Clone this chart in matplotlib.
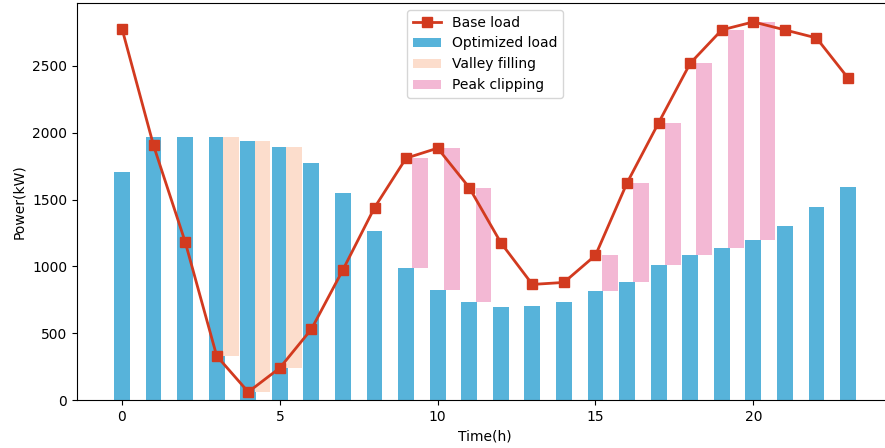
import numpy as np
import matplotlib
matplotlib.use("Agg")
import matplotlib.pyplot as plt

# hourly load profile (kW)
hours = np.arange(24)
base_load = [2780, 1905, 1185, 330, 60, 240, 530, 975, 1440, 1810, 1885, 1590,
             1178, 865, 880, 1083, 1625, 2075, 2520, 2770, 2830, 2770, 2710, 2410]
opt_load = [1710, 1970, 1970, 1970, 1940, 1890, 1775, 1550, 1265, 985, 825, 735,
            695, 700, 735, 815, 885, 1010, 1085, 1135, 1200, 1305, 1445, 1595]

valley_hours = [3, 4, 5]
peak_hours = [9, 10, 11, 15, 16, 17, 18, 19, 20]

c_base = '#D23A1F'
c_opt = '#57B3DA'
c_valley = '#FCDDCC'
c_peak = '#F3B8D4'

fig = plt.figure(figsize=(8.85, 4.48), dpi=100)
ax = fig.add_axes([77/885, 48/448, 816/885, 397/448])

w = 0.5
off = 0.45
ax.bar(hours, opt_load, width=w, color=c_opt, label='Optimized load')

vb = [base_load[h] for h in valley_hours]
vt = [opt_load[h] - base_load[h] for h in valley_hours]
ax.bar(np.array(valley_hours) + off, vt, bottom=vb, width=w, color=c_valley,
       label='Valley filling')

pb = [opt_load[h] for h in peak_hours]
pt = [base_load[h] - opt_load[h] for h in peak_hours]
ax.bar(np.array(peak_hours) + off, pt, bottom=pb, width=w, color=c_peak,
       label='Peak clipping')

ax.plot(hours, base_load, color=c_base, marker='s', markersize=6.5, linewidth=2,
        label='Base load', zorder=5)

ax.set_xlabel('Time(h)')
ax.set_ylabel('Power(kW)')

ax.legend(loc='upper center', fontsize=10)

fig.savefig('out.png', dpi=100)
